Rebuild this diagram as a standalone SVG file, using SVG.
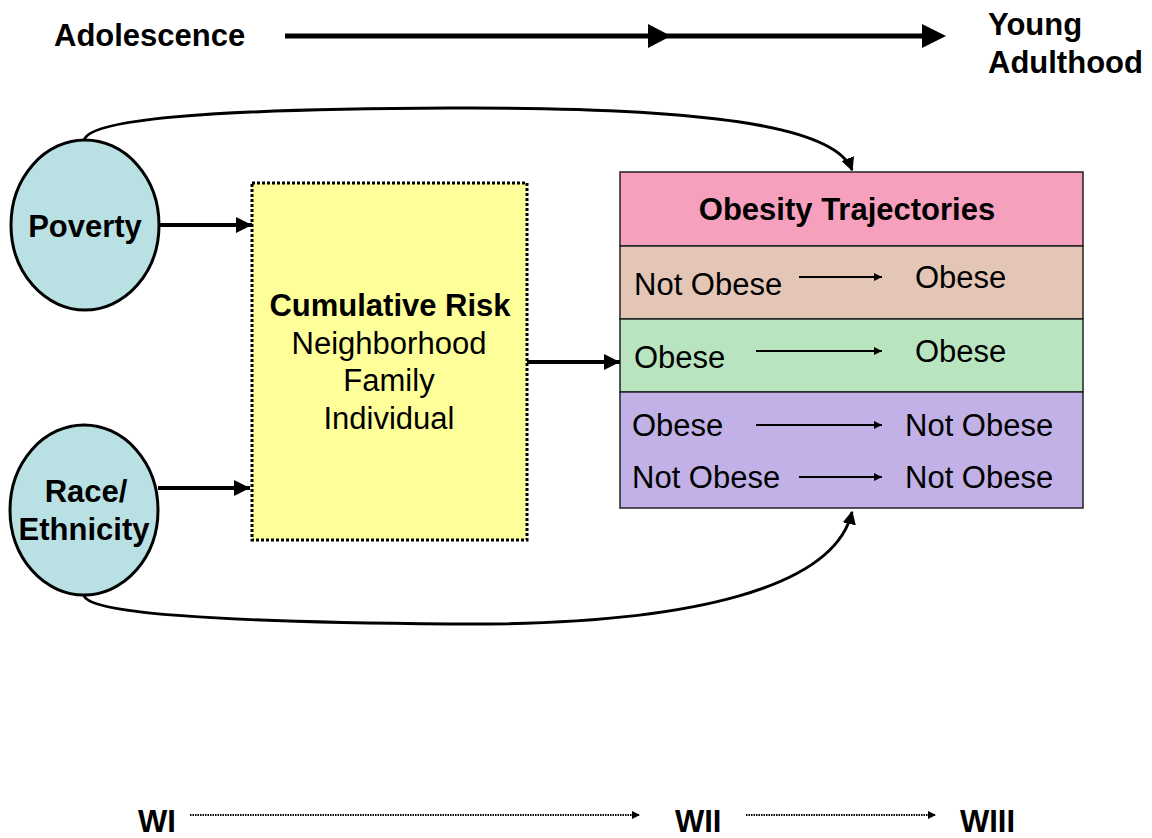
<svg xmlns="http://www.w3.org/2000/svg" width="1152" height="838" viewBox="0 0 1152 838">
<defs>
<style>
text{font-family:"Liberation Sans",Arial,sans-serif;font-size:31px;fill:#000}
.b{font-weight:bold}
.ell{fill:#B9E0E3;stroke:#000;stroke-width:3}
.thick{stroke:#000;stroke-width:4;fill:none}
.thin{stroke:#000;stroke-width:2;fill:none}
.dot{stroke:#000;stroke-width:2;stroke-dasharray:1.5,1;fill:none}
.row{stroke:#222;stroke-width:1.5}
</style>
<marker id="ah" viewBox="0 0 10 10" refX="10" refY="5" markerWidth="4" markerHeight="4" orient="auto" markerUnits="strokeWidth"><path d="M0,0 L10,5 L0,10 Z" fill="#000"/></marker>
<marker id="ahs" viewBox="0 0 10 10" refX="10" refY="5" markerWidth="5" markerHeight="4" orient="auto" markerUnits="strokeWidth"><path d="M0,0 L10,5 L0,10 Z" fill="#000"/></marker>
<marker id="ahc" viewBox="0 0 10 10" refX="9" refY="5" markerWidth="4.5" markerHeight="4.5" orient="auto" markerUnits="strokeWidth"><path d="M0,0 L10,5 L0,10 Z" fill="#000"/></marker>
</defs>

<g id="timeline-top">
<text class="b" x="54" y="46">Adolescence</text>
<line x1="285" y1="36" x2="925" y2="36" stroke="#000" stroke-width="5"/>
<polygon points="648,24 671,36 648,48" fill="#000"/>
<polygon points="922,24 946,36 922,48" fill="#000"/>
<text class="b" x="988" y="35">Young</text>
<text class="b" x="988" y="73">Adulthood</text>
</g>

<g id="poverty">
<ellipse class="ell" cx="85" cy="225" rx="74" ry="85"/>
<text class="b" x="85" y="237" text-anchor="middle">Poverty</text>
</g>

<g id="race">
<ellipse class="ell" cx="84" cy="510" rx="74" ry="85"/>
<text class="b" x="86" y="502" text-anchor="middle">Race/</text>
<text class="b" x="84" y="540" text-anchor="middle">Ethnicity</text>
</g>

<g id="cumulative-risk">
<rect x="252" y="183" width="275" height="357" fill="#FFFF99" stroke="#000" stroke-width="3" stroke-dasharray="3,2"/>
<text class="b" x="390" y="316" text-anchor="middle">Cumulative Risk</text>
<text x="389" y="354" text-anchor="middle">Neighborhood</text>
<text x="389" y="391" text-anchor="middle">Family</text>
<text x="389" y="429" text-anchor="middle">Individual</text>
</g>

<g id="obesity-trajectories">
<rect x="620" y="172" width="463" height="74" fill="#F6A0BE" class="row"/>
<rect x="620" y="246" width="463" height="73" fill="#E3C6B6" class="row"/>
<rect x="620" y="319" width="463" height="73" fill="#B9E4C0" class="row"/>
<rect x="620" y="392" width="463" height="116" fill="#C2B1E7" class="row"/>
<text class="b" x="847" y="220" text-anchor="middle">Obesity Trajectories</text>
<text x="634" y="295">Not Obese</text>
<line class="thin" x1="799" y1="277" x2="882" y2="277" marker-end="url(#ahs)"/>
<text x="915" y="288">Obese</text>
<text x="634" y="368">Obese</text>
<line class="thin" x1="756" y1="351" x2="882" y2="351" marker-end="url(#ahs)"/>
<text x="915" y="362">Obese</text>
<text x="632" y="436">Obese</text>
<line class="thin" x1="756" y1="425" x2="882" y2="425" marker-end="url(#ahs)"/>
<text x="905" y="436">Not Obese</text>
<text x="632" y="488">Not Obese</text>
<line class="thin" x1="799" y1="477" x2="882" y2="477" marker-end="url(#ahs)"/>
<text x="905" y="488">Not Obese</text>
</g>

<g id="connectors">
<line class="thick" x1="160" y1="225" x2="252" y2="225" marker-end="url(#ah)"/>
<line class="thick" x1="158" y1="488" x2="250" y2="488" marker-end="url(#ah)"/>
<line class="thick" x1="527" y1="362" x2="620" y2="362" marker-end="url(#ah)"/>
<path class="thin" style="stroke-width:3" d="M84,141 C86,120 200,109 450,108 C700,107 835,125 852,170" marker-end="url(#ahc)"/>
<path class="thin" style="stroke-width:3" d="M84,595 C86,612 200,622 450,624 C700,626 835,585 852,512" marker-end="url(#ahc)"/>
</g>

<g id="waves">
<text class="b" x="138" y="832">WI</text>
<line class="dot" x1="190" y1="815" x2="640" y2="815" marker-end="url(#ahs)"/>
<text class="b" x="675" y="832">WII</text>
<line class="dot" x1="746" y1="815" x2="936" y2="815" marker-end="url(#ahs)"/>
<text class="b" x="960" y="832">WIII</text>
</g>
</svg>
